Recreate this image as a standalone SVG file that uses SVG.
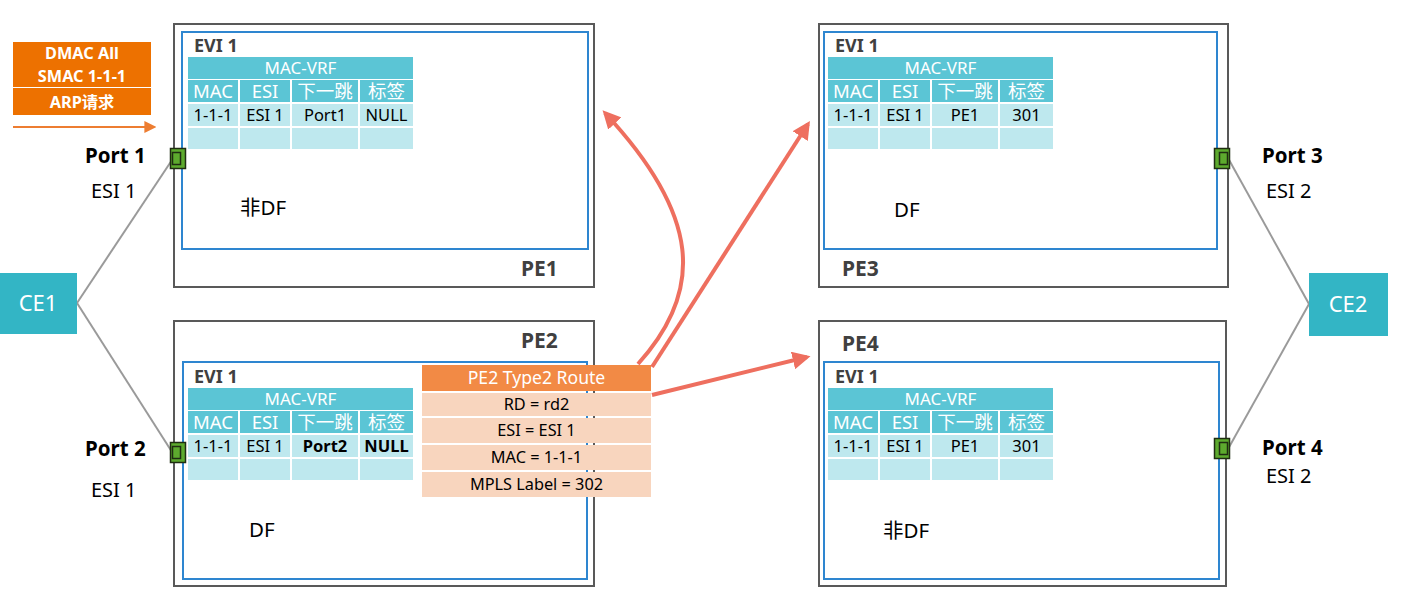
<svg xmlns="http://www.w3.org/2000/svg" xmlns:xlink="http://www.w3.org/1999/xlink" width="1402" height="593" viewBox="0 0 1402 593">
<style>
text{font-family:"Noto Sans","Noto Sans CJK SC",sans-serif;}
.pe{fill:#fff;stroke:#595959;stroke-width:2;}
.evi{fill:none;stroke:#2E86D0;stroke-width:2;}
.lbl{font-size:21px;font-weight:bold;fill:#404040;}
.evit{font-size:18px;font-weight:bold;fill:#404040;}
.th{fill:#5BC5D5;}
.td{fill:#BEE8EE;}
.tht{font-size:17px;fill:#fff;text-anchor:middle;}
.thc{font-size:18.5px;fill:#fff;text-anchor:middle;}
.tdt{font-size:16.5px;fill:#000;text-anchor:middle;}
.df{font-size:20.5px;fill:#000;}
.port{font-size:20.5px;font-weight:bold;fill:#000;}
.esi{font-size:20px;fill:#000;}
.ce{fill:#33B5C5;}
.cet{font-size:22px;fill:#fff;text-anchor:middle;}
.pg{fill:#5DAA2E;stroke:#1f2d12;stroke-width:1.5;}
.link{stroke:#9a9a9a;stroke-width:2;fill:none;}
.red{stroke:#EE6F5F;stroke-width:4;fill:none;}
.rt{font-size:16.3px;fill:#000;text-anchor:middle;}
.arp{font-size:16.3px;font-weight:bold;fill:#fff;text-anchor:middle;}
</style>
<defs>
<marker id="ah" viewBox="0 0 10 10" refX="8" refY="5" markerWidth="4.5" markerHeight="4.5" orient="auto" markerUnits="strokeWidth">
<path d="M0,0 L10,5 L0,10 z" fill="#EE6F5F"/>
</marker>
<marker id="ao" viewBox="0 0 10 10" refX="8" refY="5" markerWidth="6" markerHeight="6" orient="auto" markerUnits="strokeWidth">
<path d="M0,0 L10,5 L0,10 z" fill="#ED7D31"/>
</marker>
<g id="grid">
<rect class="th" x="0" y="0" width="225" height="22"/>
<rect class="th" x="0" y="23" width="50" height="22"/>
<rect class="th" x="52" y="23" width="50" height="22"/>
<rect class="th" x="104" y="23" width="66" height="22"/>
<rect class="th" x="172" y="23" width="53" height="22"/>
<rect class="td" x="0" y="47" width="50" height="22"/>
<rect class="td" x="52" y="47" width="50" height="22"/>
<rect class="td" x="104" y="47" width="66" height="22"/>
<rect class="td" x="172" y="47" width="53" height="22"/>
<rect class="td" x="0" y="71" width="50" height="21"/>
<rect class="td" x="52" y="71" width="50" height="21"/>
<rect class="td" x="104" y="71" width="66" height="21"/>
<rect class="td" x="172" y="71" width="53" height="21"/>
<text class="tht" x="112.5" y="17">MAC-VRF</text>
<text class="thc" x="25" y="41">MAC</text>
<text class="thc" x="77" y="41">ESI</text>
<text class="thc" x="137" y="41">下一跳</text>
<text class="thc" x="198.5" y="41">标签</text>
</g>
</defs>

<g id="connectors">
<line class="link" x1="77" y1="303" x2="172" y2="160"/>
<line class="link" x1="77" y1="303" x2="172" y2="452"/>
<line class="link" x1="1309" y1="304" x2="1228" y2="158"/>
<line class="link" x1="1309" y1="304" x2="1228" y2="449"/>
</g>

<g id="arp">
<rect x="13" y="42" width="138" height="45" fill="#ED7100"/>
<rect x="13" y="88" width="138" height="27" fill="#ED7100"/>
<text class="arp" x="82" y="59">DMAC All</text>
<text class="arp" x="82" y="82">SMAC 1-1-1</text>
<text class="arp" x="82" y="108">ARP请求</text>
<line x1="13" y1="127" x2="154" y2="127" stroke="#ED7D31" stroke-width="2" marker-end="url(#ao)"/>
</g>

<g id="PE1">
<rect class="pe" x="174" y="24" width="420" height="263"/>
<rect class="evi" x="182" y="32" width="406" height="217"/>
<text class="evit" x="194" y="52">EVI 1</text>
<use xlink:href="#grid" x="188" y="57"/>
<g transform="translate(188,57)">
<text class="tdt" x="25" y="64">1-1-1</text>
<text class="tdt" x="77" y="64">ESI 1</text>
<text class="tdt" x="137" y="64">Port1</text>
<text class="tdt" x="198.5" y="64">NULL</text>
</g>
<text class="df" x="240" y="215">非DF</text>
<text class="lbl" x="521" y="276">PE1</text>
</g>

<g id="PE2">
<rect class="pe" x="174" y="321" width="420" height="265"/>
<rect class="evi" x="183" y="362" width="404" height="217"/>
<text class="evit" x="194" y="383">EVI 1</text>
<use xlink:href="#grid" x="188" y="388"/>
<g transform="translate(188,388)">
<text class="tdt" x="25" y="64">1-1-1</text>
<text class="tdt" x="77" y="64">ESI 1</text>
<text class="tdt" x="137" y="64" font-weight="bold">Port2</text>
<text class="tdt" x="198.5" y="64" font-weight="bold">NULL</text>
</g>
<text class="df" x="249" y="537">DF</text>
<text class="lbl" x="521" y="348">PE2</text>
</g>

<g id="PE3">
<rect class="pe" x="819" y="24" width="409" height="263"/>
<rect class="evi" x="824" y="32" width="393" height="217"/>
<text class="evit" x="835" y="52">EVI 1</text>
<use xlink:href="#grid" x="828" y="57"/>
<g transform="translate(828,57)">
<text class="tdt" x="25" y="64">1-1-1</text>
<text class="tdt" x="77" y="64">ESI 1</text>
<text class="tdt" x="137" y="64">PE1</text>
<text class="tdt" x="198.5" y="64">301</text>
</g>
<text class="df" x="894" y="217">DF</text>
<text class="lbl" x="842" y="276">PE3</text>
</g>

<g id="PE4">
<rect class="pe" x="819" y="321" width="407" height="265"/>
<rect class="evi" x="824" y="362" width="395" height="217"/>
<text class="evit" x="835" y="383">EVI 1</text>
<use xlink:href="#grid" x="828" y="388"/>
<g transform="translate(828,388)">
<text class="tdt" x="25" y="64">1-1-1</text>
<text class="tdt" x="77" y="64">ESI 1</text>
<text class="tdt" x="137" y="64">PE1</text>
<text class="tdt" x="198.5" y="64">301</text>
</g>
<text class="df" x="883" y="538">非DF</text>
<text class="lbl" x="842" y="351">PE4</text>
</g>

<g id="route">
<rect x="422" y="365" width="229" height="26" fill="#F28A45"/>
<rect x="422" y="393" width="229" height="23" fill="#F8D5BE"/>
<rect x="422" y="418" width="229" height="25" fill="#F8D5BE"/>
<rect x="422" y="445" width="229" height="25" fill="#F8D5BE"/>
<rect x="422" y="472" width="229" height="25" fill="#F8D5BE"/>
<text x="536.5" y="384" font-size="17.6" fill="#fff" text-anchor="middle">PE2 Type2 Route</text>
<text class="rt" x="536.5" y="410">RD = rd2</text>
<text class="rt" x="536.5" y="436">ESI = ESI 1</text>
<text class="rt" x="536.5" y="463">MAC = 1-1-1</text>
<text class="rt" x="536.5" y="490">MPLS Label = 302</text>
</g>

<g id="arrows">
<path class="red" d="M638,364 C705,290 700,215 605,113" marker-end="url(#ah)"/>
<path class="red" d="M652,367 L808,124" marker-end="url(#ah)"/>
<path class="red" d="M652,395 L807,357" marker-end="url(#ah)"/>
</g>

<g id="CE1">
<rect class="ce" x="0" y="273" width="77" height="61"/>
<text class="cet" x="38" y="311">CE1</text>
</g>
<g id="CE2">
<rect class="ce" x="1309" y="273" width="79" height="63"/>
<text class="cet" x="1348" y="312">CE2</text>
</g>

<g id="port1">
<rect class="pg" x="170.5" y="148.5" width="15" height="20"/>
<rect class="pg" x="172.5" y="152.5" width="8" height="12"/>
<text class="port" x="85" y="163">Port 1</text>
<text class="esi" x="91" y="198">ESI 1</text>
</g>
<g id="port2">
<rect class="pg" x="170.5" y="442.5" width="15" height="20"/>
<rect class="pg" x="172.5" y="446.5" width="8" height="12"/>
<text class="port" x="85" y="456">Port 2</text>
<text class="esi" x="91" y="497">ESI 1</text>
</g>
<g id="port3">
<rect class="pg" x="1214.5" y="148.5" width="15" height="20"/>
<rect class="pg" x="1219.5" y="152.5" width="8" height="12"/>
<text class="port" x="1262" y="163">Port 3</text>
<text class="esi" x="1266" y="198">ESI 2</text>
</g>
<g id="port4">
<rect class="pg" x="1214.5" y="438.5" width="15" height="20"/>
<rect class="pg" x="1219.5" y="442.5" width="8" height="12"/>
<text class="port" x="1262" y="455">Port 4</text>
<text class="esi" x="1266" y="483">ESI 2</text>
</g>
</svg>
